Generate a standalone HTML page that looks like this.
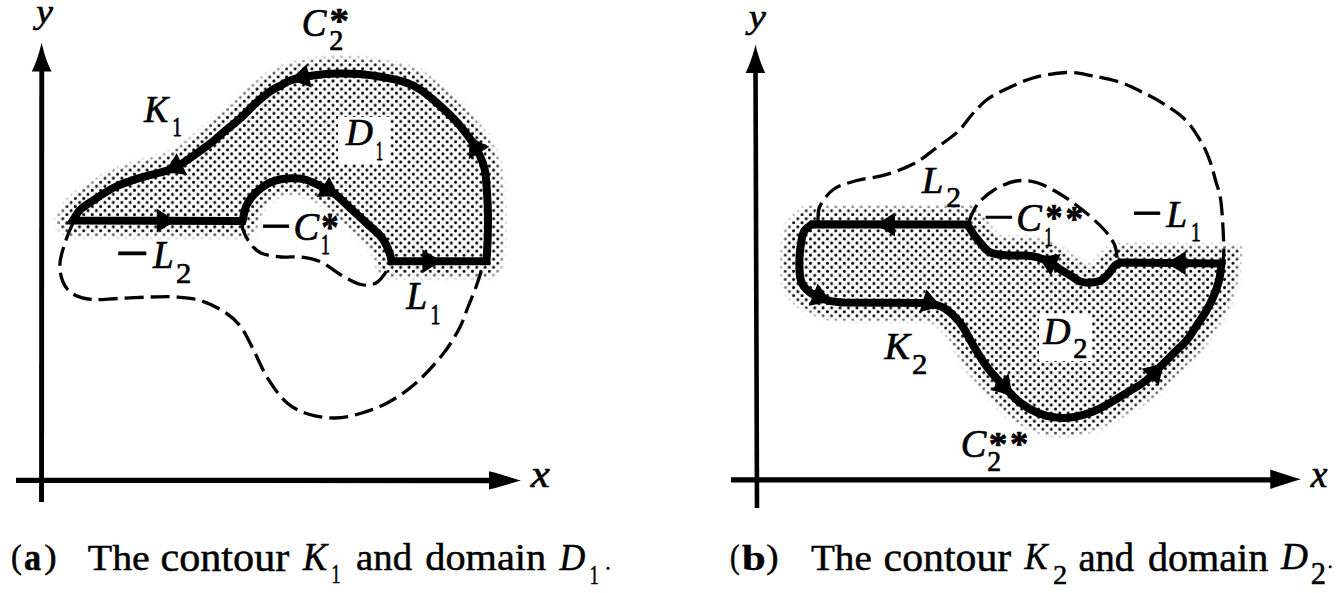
<!DOCTYPE html>
<html><head><meta charset="utf-8"><style>
html,body{margin:0;padding:0;background:#fff;}
body{width:1338px;height:593px;overflow:hidden;}
svg{display:block;}
.t{font-family:"Liberation Serif",serif;fill:#000;}
.dash{fill:none;stroke:#000;stroke-width:3.3;stroke-dasharray:19 7;}
.thick{fill:none;stroke:#000;stroke-width:8;stroke-linejoin:miter;stroke-miterlimit:3;}
</style></head><body>
<svg width="1338" height="593" viewBox="0 0 1338 593">
<defs>
<pattern id="dots" patternUnits="userSpaceOnUse" width="8.45" height="8.1" x="3.5" y="0">
<circle cx="0" cy="0" r="1.5"/><circle cx="8.45" cy="0" r="1.5"/><circle cx="0" cy="8.1" r="1.5"/><circle cx="8.45" cy="8.1" r="1.5"/><circle cx="4.225" cy="4.05" r="1.5"/>
</pattern>
<filter id="blur" x="-10%" y="-10%" width="120%" height="120%"><feGaussianBlur stdDeviation="2.5"/></filter>
<mask id="m1" maskUnits="userSpaceOnUse" x="0" y="0" width="1338" height="593">
<g filter="url(#blur)"><path d="M73.0,220.5 L242.5,221.0 C242.8,219.8 243.4,216.4 244.0,214.0 C244.6,211.6 245.0,208.9 246.0,206.5 C247.0,204.1 248.5,201.7 250.0,199.5 C251.5,197.3 253.0,195.5 255.0,193.5 C257.0,191.5 259.5,189.3 262.0,187.5 C264.5,185.7 266.8,183.9 270.0,182.5 C273.2,181.1 277.2,179.9 281.0,179.2 C284.8,178.5 289.0,178.1 293.0,178.2 C297.0,178.2 301.0,178.4 305.0,179.5 C309.0,180.6 312.2,182.2 317.0,184.5 C321.8,186.8 328.4,189.6 334.0,193.6 C339.6,197.6 345.0,203.4 350.6,208.5 C356.2,213.6 362.6,219.5 367.5,224.0 C372.4,228.5 376.9,232.0 380.0,235.5 C383.1,239.0 384.6,241.8 386.3,245.0 C388.0,248.2 389.3,252.3 390.2,255.0 C391.1,257.7 391.3,260.2 391.5,261.3 L486.5,261.3 C486.7,257.8 487.4,247.7 487.6,240.0 C487.9,232.3 488.1,222.8 488.0,215.0 C487.9,207.2 487.6,200.8 487.0,193.0 C486.4,185.2 486.3,176.0 484.5,168.5 C482.7,161.0 479.2,154.1 476.0,148.0 C472.8,141.9 468.8,137.0 465.0,132.0 C461.2,127.0 457.7,122.8 453.0,118.0 C448.3,113.2 442.5,107.8 437.0,103.0 C431.5,98.2 425.4,93.0 420.0,89.5 C414.6,86.0 410.8,84.1 404.5,82.0 C398.2,79.9 389.4,78.3 382.0,77.0 C374.6,75.7 367.5,74.6 360.0,74.0 C352.5,73.4 344.5,73.3 337.0,73.5 C329.5,73.7 322.5,74.2 315.0,75.2 C307.5,76.2 297.7,78.1 292.0,79.8 C286.3,81.5 284.7,83.3 281.0,85.3 C277.3,87.2 274.2,88.5 270.0,91.5 C265.8,94.5 260.9,98.6 256.0,103.0 C251.1,107.4 245.8,113.4 240.7,118.0 C235.6,122.6 230.6,126.2 225.5,130.5 C220.4,134.8 215.1,139.7 210.0,143.7 C204.9,147.7 200.0,151.1 195.0,154.6 C190.0,158.1 184.8,161.8 180.0,164.5 C175.2,167.2 173.0,168.6 166.5,170.8 C160.0,173.0 149.4,174.9 141.0,177.5 C132.6,180.1 124.0,182.7 116.0,186.5 C108.0,190.3 99.0,196.6 93.0,200.5 C87.0,204.4 83.3,206.7 80.0,210.0 C76.7,213.3 74.2,218.8 73.0,220.5 Z" fill="#fff" stroke="#fff" stroke-width="30" stroke-linejoin="round"/></g>
</mask>
<mask id="m2" maskUnits="userSpaceOnUse" x="0" y="0" width="1338" height="593">
<g filter="url(#blur)"><path d="M1221.5,263.5 L1121.0,262.5 C1120.0,263.0 1117.0,263.7 1115.0,265.5 C1113.0,267.3 1111.2,271.0 1108.8,273.5 C1106.4,276.0 1103.7,279.0 1100.7,280.5 C1097.7,282.0 1094.0,282.4 1090.6,282.6 C1087.2,282.8 1083.9,282.8 1080.5,281.6 C1077.1,280.4 1073.8,277.5 1070.4,275.5 C1067.0,273.5 1063.7,271.6 1060.2,269.4 C1056.7,267.1 1053.3,264.0 1049.5,262.0 C1045.7,260.0 1041.5,258.5 1037.6,257.4 C1033.6,256.3 1029.7,255.9 1025.8,255.6 C1021.9,255.3 1017.9,255.6 1014.0,255.5 C1010.1,255.4 1006.1,255.5 1002.2,255.0 C998.3,254.5 993.4,253.7 990.4,252.5 C987.4,251.3 986.5,249.8 984.5,247.8 C982.5,245.8 980.4,242.9 978.6,240.7 C976.8,238.5 975.3,236.8 973.9,234.8 C972.5,232.8 971.5,230.6 970.3,228.9 C969.1,227.2 967.4,225.2 966.8,224.5 L812.0,224.3 C810.7,225.5 805.8,228.3 804.0,231.5 C802.2,234.7 801.8,238.7 801.0,243.5 C800.2,248.3 799.5,254.8 799.4,260.5 C799.3,266.2 799.5,273.2 800.2,277.5 C800.9,281.8 801.8,283.5 803.5,286.0 C805.2,288.5 807.7,290.8 810.3,292.6 C812.9,294.4 815.5,295.6 819.0,297.0 C822.5,298.4 826.7,300.3 831.0,301.2 C835.3,302.1 842.7,302.4 845.0,302.6 L930.0,303.0 C932.3,303.8 940.0,305.8 944.0,308.0 C948.0,310.2 950.8,312.8 954.0,316.0 C957.2,319.2 959.8,322.1 963.0,327.0 C966.2,331.9 969.4,338.9 973.4,345.6 C977.4,352.3 981.9,360.2 987.0,367.0 C992.1,373.8 998.5,380.6 1004.0,386.5 C1009.5,392.4 1014.3,398.1 1020.0,402.5 C1025.7,406.9 1032.0,410.5 1038.0,413.0 C1044.0,415.5 1050.0,416.8 1056.0,417.5 C1062.0,418.2 1068.0,417.9 1074.0,417.0 C1080.0,416.1 1086.0,414.3 1092.0,412.0 C1098.0,409.7 1104.1,406.3 1110.0,403.0 C1115.9,399.7 1121.6,396.0 1127.5,392.3 C1133.4,388.6 1139.5,385.8 1145.5,381.0 C1151.5,376.2 1158.6,368.2 1163.6,363.3 C1168.6,358.4 1171.5,355.4 1175.4,351.5 C1179.3,347.6 1183.7,344.0 1187.2,339.7 C1190.8,335.4 1193.6,330.2 1196.7,325.5 C1199.8,320.8 1203.2,316.1 1206.0,311.4 C1208.8,306.7 1211.0,302.3 1213.2,297.2 C1215.4,292.1 1217.6,286.3 1219.0,280.7 C1220.4,275.1 1221.1,266.4 1221.5,263.5 Z" fill="#fff" stroke="#fff" stroke-width="34" stroke-linejoin="miter" stroke-miterlimit="2"/></g>
</mask>
</defs>
<rect width="1338" height="593" fill="#fff"/>
<rect x="0" y="0" width="669" height="520" fill="url(#dots)" mask="url(#m1)"/>
<rect x="669" y="0" width="669" height="520" fill="url(#dots)" mask="url(#m2)"/>
<rect x="338" y="117" width="52" height="47" fill="#fff"/>
<rect x="1039" y="314" width="53" height="47" fill="#fff"/>
<g fill="#000" stroke="none">
<path d="M39.3,62 L44.2,62 L44,502 L39.1,502 Z"/>
<path d="M41.6,42.5 C43.2,50 46.5,62 51.6,71.5 L31.8,71.5 C36.7,62 40,50 41.6,42.5 Z"/>
<path d="M16,477.7 L492,477.8 L492,483.2 L16,483 Z"/>
<path d="M521,480.6 C512,478 500,474 489,471.3 L489,489.5 C500,487 512,483 521,480.6 Z"/>
<path d="M753.2,62 L757.8,62 L759.3,508 L754.7,508 Z"/>
<path d="M755.5,44.5 C757.2,52 760.5,63 765.2,73 L745.6,73 C750.5,63 753.8,52 755.5,44.5 Z"/>
<path d="M731,477.3 L1272,477.3 L1272,482.4 L731,482.6 Z"/>
<path d="M1301,479.2 C1292,477 1281,473 1270.3,469.6 L1270.3,489 C1281,485.5 1292,481.5 1301,479.2 Z"/>
</g>
<path d="M73.0,223.0 C71.8,225.8 68.2,233.3 66.0,240.0 C63.8,246.7 60.5,256.0 60.0,263.0 C59.5,270.0 60.8,276.8 63.0,282.0 C65.2,287.2 68.2,291.1 73.0,294.0 C77.8,296.9 84.5,298.8 92.0,299.5 C99.5,300.2 108.2,298.9 118.0,298.5 C127.8,298.1 141.2,297.2 151.0,297.0 C160.8,296.8 168.5,296.3 177.0,297.0 C185.5,297.7 193.8,298.3 202.0,301.0 C210.2,303.7 219.5,308.7 226.0,313.0 C232.5,317.3 236.3,320.7 241.0,327.0 C245.7,333.3 249.7,342.7 254.0,351.0 C258.3,359.3 261.7,368.5 267.0,377.0 C272.3,385.5 279.2,395.8 286.0,402.0 C292.8,408.2 299.8,411.3 308.0,414.0 C316.2,416.7 326.0,418.2 335.0,418.0 C344.0,417.8 353.0,415.7 362.0,413.0 C371.0,410.3 380.0,407.0 389.0,402.0 C398.0,397.0 407.0,391.0 416.0,383.0 C425.0,375.0 435.8,363.0 443.0,354.0 C450.2,345.0 454.8,336.8 459.0,329.0 C463.2,321.2 465.2,314.0 468.0,307.0 C470.8,300.0 473.8,292.8 476.0,287.0 C478.2,281.2 479.5,276.2 481.0,272.0 C482.5,267.8 484.3,263.7 485.0,262.0" class="dash"/>
<path d="M243.0,223.0 C243.0,224.2 241.8,226.7 243.0,230.0 C244.2,233.3 247.0,239.2 250.0,243.0 C253.0,246.8 255.8,250.7 261.0,253.0 C266.2,255.3 274.3,256.3 281.0,257.0 C287.7,257.7 294.3,256.2 301.0,257.0 C307.7,257.8 314.3,259.0 321.0,262.0 C327.7,265.0 334.3,271.2 341.0,275.0 C347.7,278.8 355.2,283.2 361.0,284.5 C366.8,285.8 371.8,285.1 376.0,283.0 C380.2,280.9 383.7,275.5 386.0,272.0 C388.3,268.5 389.3,263.7 390.0,262.0" class="dash"/>
<path d="M818.0,221.0 C818.3,218.5 817.3,211.3 820.0,206.0 C822.7,200.7 827.8,193.2 834.0,189.0 C840.2,184.8 848.3,182.9 857.0,180.5 C865.7,178.1 876.4,177.6 886.0,174.7 C895.6,171.8 906.6,167.6 914.7,163.3 C922.8,159.0 927.6,154.3 934.8,149.0 C942.0,143.7 951.6,137.4 957.8,131.7 C964.0,125.9 967.2,119.8 972.0,114.5 C976.8,109.2 981.2,104.1 986.5,100.0 C991.8,95.9 996.2,93.7 1004.0,90.0 C1011.8,86.3 1022.7,80.9 1033.0,78.0 C1043.3,75.1 1056.2,72.9 1066.0,72.5 C1075.8,72.1 1082.9,74.1 1092.0,75.8 C1101.1,77.5 1112.1,79.7 1120.5,82.4 C1128.9,85.2 1135.2,88.7 1142.5,92.3 C1149.8,95.9 1157.1,99.5 1164.4,104.3 C1171.7,109.0 1180.1,114.4 1186.3,120.8 C1192.5,127.2 1197.6,135.8 1201.6,142.7 C1205.6,149.6 1208.0,155.8 1210.4,162.4 C1212.8,169.0 1214.3,176.2 1216.0,182.0 C1217.7,187.8 1219.2,190.7 1220.3,197.2 C1221.4,203.7 1222.0,212.2 1222.6,220.8 C1223.2,229.4 1223.7,242.1 1223.8,249.0 C1223.9,255.9 1223.1,259.8 1223.0,262.0" class="dash"/>
<path d="M969.0,222.0 C969.5,220.7 970.4,217.2 972.0,214.0 C973.6,210.8 974.8,207.0 978.5,203.0 C982.2,199.0 987.8,193.7 994.0,190.0 C1000.2,186.3 1008.7,182.2 1016.0,181.0 C1023.3,179.8 1030.7,180.8 1038.0,183.0 C1045.3,185.2 1052.7,189.6 1060.0,194.0 C1067.3,198.4 1074.8,203.7 1082.0,209.5 C1089.2,215.3 1098.1,223.2 1103.5,229.0 C1108.9,234.8 1112.2,239.8 1114.5,244.6 C1116.8,249.4 1116.6,255.8 1117.0,258.0" class="dash"/>
<path d="M73.0,220.5 L242.5,221.0 C242.8,219.8 243.4,216.4 244.0,214.0 C244.6,211.6 245.0,208.9 246.0,206.5 C247.0,204.1 248.5,201.7 250.0,199.5 C251.5,197.3 253.0,195.5 255.0,193.5 C257.0,191.5 259.5,189.3 262.0,187.5 C264.5,185.7 266.8,183.9 270.0,182.5 C273.2,181.1 277.2,179.9 281.0,179.2 C284.8,178.5 289.0,178.1 293.0,178.2 C297.0,178.2 301.0,178.4 305.0,179.5 C309.0,180.6 312.2,182.2 317.0,184.5 C321.8,186.8 328.4,189.6 334.0,193.6 C339.6,197.6 345.0,203.4 350.6,208.5 C356.2,213.6 362.6,219.5 367.5,224.0 C372.4,228.5 376.9,232.0 380.0,235.5 C383.1,239.0 384.6,241.8 386.3,245.0 C388.0,248.2 389.3,252.3 390.2,255.0 C391.1,257.7 391.3,260.2 391.5,261.3 L486.5,261.3 C486.7,257.8 487.4,247.7 487.6,240.0 C487.9,232.3 488.1,222.8 488.0,215.0 C487.9,207.2 487.6,200.8 487.0,193.0 C486.4,185.2 486.3,176.0 484.5,168.5 C482.7,161.0 479.2,154.1 476.0,148.0 C472.8,141.9 468.8,137.0 465.0,132.0 C461.2,127.0 457.7,122.8 453.0,118.0 C448.3,113.2 442.5,107.8 437.0,103.0 C431.5,98.2 425.4,93.0 420.0,89.5 C414.6,86.0 410.8,84.1 404.5,82.0 C398.2,79.9 389.4,78.3 382.0,77.0 C374.6,75.7 367.5,74.6 360.0,74.0 C352.5,73.4 344.5,73.3 337.0,73.5 C329.5,73.7 322.5,74.2 315.0,75.2 C307.5,76.2 297.7,78.1 292.0,79.8 C286.3,81.5 284.7,83.3 281.0,85.3 C277.3,87.2 274.2,88.5 270.0,91.5 C265.8,94.5 260.9,98.6 256.0,103.0 C251.1,107.4 245.8,113.4 240.7,118.0 C235.6,122.6 230.6,126.2 225.5,130.5 C220.4,134.8 215.1,139.7 210.0,143.7 C204.9,147.7 200.0,151.1 195.0,154.6 C190.0,158.1 184.8,161.8 180.0,164.5 C175.2,167.2 173.0,168.6 166.5,170.8 C160.0,173.0 149.4,174.9 141.0,177.5 C132.6,180.1 124.0,182.7 116.0,186.5 C108.0,190.3 99.0,196.6 93.0,200.5 C87.0,204.4 83.3,206.7 80.0,210.0 C76.7,213.3 74.2,218.8 73.0,220.5 Z" class="thick"/>
<path d="M1221.5,263.5 L1121.0,262.5 C1120.0,263.0 1117.0,263.7 1115.0,265.5 C1113.0,267.3 1111.2,271.0 1108.8,273.5 C1106.4,276.0 1103.7,279.0 1100.7,280.5 C1097.7,282.0 1094.0,282.4 1090.6,282.6 C1087.2,282.8 1083.9,282.8 1080.5,281.6 C1077.1,280.4 1073.8,277.5 1070.4,275.5 C1067.0,273.5 1063.7,271.6 1060.2,269.4 C1056.7,267.1 1053.3,264.0 1049.5,262.0 C1045.7,260.0 1041.5,258.5 1037.6,257.4 C1033.6,256.3 1029.7,255.9 1025.8,255.6 C1021.9,255.3 1017.9,255.6 1014.0,255.5 C1010.1,255.4 1006.1,255.5 1002.2,255.0 C998.3,254.5 993.4,253.7 990.4,252.5 C987.4,251.3 986.5,249.8 984.5,247.8 C982.5,245.8 980.4,242.9 978.6,240.7 C976.8,238.5 975.3,236.8 973.9,234.8 C972.5,232.8 971.5,230.6 970.3,228.9 C969.1,227.2 967.4,225.2 966.8,224.5 L812.0,224.3 C810.7,225.5 805.8,228.3 804.0,231.5 C802.2,234.7 801.8,238.7 801.0,243.5 C800.2,248.3 799.5,254.8 799.4,260.5 C799.3,266.2 799.5,273.2 800.2,277.5 C800.9,281.8 801.8,283.5 803.5,286.0 C805.2,288.5 807.7,290.8 810.3,292.6 C812.9,294.4 815.5,295.6 819.0,297.0 C822.5,298.4 826.7,300.3 831.0,301.2 C835.3,302.1 842.7,302.4 845.0,302.6 L930.0,303.0 C932.3,303.8 940.0,305.8 944.0,308.0 C948.0,310.2 950.8,312.8 954.0,316.0 C957.2,319.2 959.8,322.1 963.0,327.0 C966.2,331.9 969.4,338.9 973.4,345.6 C977.4,352.3 981.9,360.2 987.0,367.0 C992.1,373.8 998.5,380.6 1004.0,386.5 C1009.5,392.4 1014.3,398.1 1020.0,402.5 C1025.7,406.9 1032.0,410.5 1038.0,413.0 C1044.0,415.5 1050.0,416.8 1056.0,417.5 C1062.0,418.2 1068.0,417.9 1074.0,417.0 C1080.0,416.1 1086.0,414.3 1092.0,412.0 C1098.0,409.7 1104.1,406.3 1110.0,403.0 C1115.9,399.7 1121.6,396.0 1127.5,392.3 C1133.4,388.6 1139.5,385.8 1145.5,381.0 C1151.5,376.2 1158.6,368.2 1163.6,363.3 C1168.6,358.4 1171.5,355.4 1175.4,351.5 C1179.3,347.6 1183.7,344.0 1187.2,339.7 C1190.8,335.4 1193.6,330.2 1196.7,325.5 C1199.8,320.8 1203.2,316.1 1206.0,311.4 C1208.8,306.7 1211.0,302.3 1213.2,297.2 C1215.4,292.1 1217.6,286.3 1219.0,280.7 C1220.4,275.1 1221.1,266.4 1221.5,263.5 Z" class="thick"/>
<g fill="#000"><path d="M177.8,220.8 Q167.3,225.3 156.7,232.7 L156.8,208.7 Q167.3,216.2 177.8,220.8 Z"/><path d="M162.9,173.1 Q170.4,164.5 176.7,153.3 L187.0,175.0 Q174.3,172.7 162.9,173.1 Z"/><path d="M288.5,80.3 Q297.8,73.6 306.5,64.2 L311.5,87.6 Q299.7,82.6 288.5,80.3 Z"/><path d="M468.3,135.0 Q477.6,141.7 489.4,146.8 L468.8,159.2 Q469.8,146.4 468.3,135.0 Z"/><path d="M443.4,261.3 Q432.9,265.9 422.4,273.3 L422.4,249.3 Q432.9,256.7 443.4,261.3 Z"/><path d="M340.8,197.7 Q329.5,196.0 316.6,196.9 L329.2,176.4 Q334.3,188.3 340.8,197.7 Z"/><path d="M874.0,224.4 Q884.5,219.8 895.0,212.4 L895.0,236.4 Q884.5,229.0 874.0,224.4 Z"/><path d="M832.7,302.6 Q821.3,302.9 808.7,305.8 L817.7,283.6 Q824.7,294.4 832.7,302.6 Z"/><path d="M943.0,307.1 Q931.6,308.3 919.4,312.3 L926.5,289.4 Q934.3,299.6 943.0,307.1 Z"/><path d="M1013.9,397.2 Q1003.4,392.6 990.8,389.9 L1008.5,373.6 Q1010.1,386.4 1013.9,397.2 Z"/><path d="M1164.9,362.0 Q1160.8,372.7 1158.8,385.4 L1141.6,368.7 Q1154.3,366.3 1164.9,362.0 Z"/><path d="M1164.7,262.9 Q1175.3,258.5 1185.8,251.1 L1185.6,275.1 Q1175.2,267.6 1164.7,262.9 Z"/><path d="M1036.7,256.0 Q1048.2,256.3 1060.8,254.0 L1050.7,275.7 Q1044.3,264.5 1036.7,256.0 Z"/></g>
<g class="t" stroke="#000" stroke-linejoin="round"><text transform="matrix(0.37500 0 0 0.33731 36.15 23.27)" font-size="100" font-style="italic" font-weight="normal" stroke-width="1.97">y</text>
<text transform="matrix(0.42889 0 0 0.36957 530.78 486.95)" font-size="100" font-style="italic" font-weight="normal" stroke-width="1.75">x</text>
<text transform="matrix(0.36935 0 0 0.40152 301.73 35.85)" font-size="100" font-style="italic" font-weight="normal" stroke-width="1.82">C</text>
<text transform="matrix(0.39048 0 0 0.34865 329.59 33.01)" font-size="100" font-style="normal" font-weight="bold" stroke-width="1.89">*</text>
<text transform="matrix(0.28250 0 0 0.28923 329.22 50.45)" font-size="100" font-style="normal" font-weight="normal" stroke-width="2.45">2</text>
<text transform="matrix(0.36389 0 0 0.38923 144.11 121.75)" font-size="100" font-style="italic" font-weight="normal" stroke-width="1.86">K</text>
<text transform="matrix(0.19143 0 0 0.28333 172.23 136.05)" font-size="100" font-style="normal" font-weight="normal" stroke-width="2.95">1</text>
<text transform="matrix(0.37639 0 0 0.37846 345.83 145.05)" font-size="100" font-style="italic" font-weight="normal" stroke-width="1.85">D</text>
<text transform="matrix(0.14000 0 0 0.28030 376.09 160.25)" font-size="100" font-style="normal" font-weight="normal" stroke-width="3.33">1</text>
<text transform="matrix(0.54681 0 0 0.54000 260.52 244.19)" font-size="100" font-style="normal" font-weight="normal" stroke-width="1.29">−</text>
<text transform="matrix(0.38387 0 0 0.41061 293.45 239.94)" font-size="100" font-style="italic" font-weight="normal" stroke-width="1.76">C</text>
<text transform="matrix(0.34762 0 0 0.40811 321.26 240.18)" font-size="100" font-style="normal" font-weight="bold" stroke-width="1.85">*</text>
<text transform="matrix(0.17714 0 0 0.28485 321.06 253.85)" font-size="100" font-style="normal" font-weight="normal" stroke-width="3.03">1</text>
<text transform="matrix(0.58723 0 0 0.62000 115.71 273.87)" font-size="100" font-style="normal" font-weight="normal" stroke-width="1.16">−</text>
<text transform="matrix(0.37115 0 0 0.39692 152.92 267.65)" font-size="100" font-style="italic" font-weight="normal" stroke-width="1.82">L</text>
<text transform="matrix(0.30750 0 0 0.30308 175.92 282.85)" font-size="100" font-style="normal" font-weight="normal" stroke-width="2.29">2</text>
<text transform="matrix(0.37692 0 0 0.39385 406.33 309.05)" font-size="100" font-style="italic" font-weight="normal" stroke-width="1.82">L</text>
<text transform="matrix(0.19714 0 0 0.29697 430.48 323.75)" font-size="100" font-style="normal" font-weight="normal" stroke-width="2.83">1</text>
<text transform="matrix(0.38462 0 0 0.33881 748.73 27.94)" font-size="100" font-style="italic" font-weight="normal" stroke-width="1.94">y</text>
<text transform="matrix(0.37556 0 0 0.38261 1310.73 486.95)" font-size="100" font-style="italic" font-weight="normal" stroke-width="1.85">x</text>
<text transform="matrix(0.38846 0 0 0.37538 921.74 193.05)" font-size="100" font-style="italic" font-weight="normal" stroke-width="1.83">L</text>
<text transform="matrix(0.29500 0 0 0.28923 946.17 207.45)" font-size="100" font-style="normal" font-weight="normal" stroke-width="2.40">2</text>
<text transform="matrix(0.55532 0 0 0.50000 983.07 233.95)" font-size="100" font-style="normal" font-weight="normal" stroke-width="1.33">−</text>
<text transform="matrix(0.38387 0 0 0.39697 1016.35 230.95)" font-size="100" font-style="italic" font-weight="normal" stroke-width="1.79">C</text>
<text transform="matrix(0.34048 0 0 0.37568 1045.49 230.47)" font-size="100" font-style="normal" font-weight="bold" stroke-width="1.95">*</text>
<text transform="matrix(0.35238 0 0 0.36216 1065.44 230.59)" font-size="100" font-style="normal" font-weight="bold" stroke-width="1.96">*</text>
<text transform="matrix(0.16286 0 0 0.28030 1044.48 245.95)" font-size="100" font-style="normal" font-weight="normal" stroke-width="3.16">1</text>
<text transform="matrix(0.54894 0 0 0.54000 1131.51 231.19)" font-size="100" font-style="normal" font-weight="normal" stroke-width="1.29">−</text>
<text transform="matrix(0.37500 0 0 0.38462 1166.22 226.65)" font-size="100" font-style="italic" font-weight="normal" stroke-width="1.84">L</text>
<text transform="matrix(0.19429 0 0 0.27727 1191.10 240.65)" font-size="100" font-style="normal" font-weight="normal" stroke-width="2.97">1</text>
<text transform="matrix(0.37778 0 0 0.38615 1043.33 343.65)" font-size="100" font-style="italic" font-weight="normal" stroke-width="1.83">D</text>
<text transform="matrix(0.28500 0 0 0.30000 1073.21 357.75)" font-size="100" font-style="normal" font-weight="normal" stroke-width="2.39">2</text>
<text transform="matrix(0.38333 0 0 0.38923 884.53 359.45)" font-size="100" font-style="italic" font-weight="normal" stroke-width="1.81">K</text>
<text transform="matrix(0.30750 0 0 0.29692 912.12 373.85)" font-size="100" font-style="normal" font-weight="normal" stroke-width="2.32">2</text>
<text transform="matrix(0.38226 0 0 0.39848 960.66 457.15)" font-size="100" font-style="italic" font-weight="normal" stroke-width="1.79">C</text>
<text transform="matrix(0.37381 0 0 0.34595 988.85 454.54)" font-size="100" font-style="normal" font-weight="bold" stroke-width="1.95">*</text>
<text transform="matrix(0.36667 0 0 0.35676 1009.88 456.14)" font-size="100" font-style="normal" font-weight="bold" stroke-width="1.94">*</text>
<text transform="matrix(0.27750 0 0 0.29385 987.14 471.45)" font-size="100" font-style="normal" font-weight="normal" stroke-width="2.45">2</text>
<text transform="matrix(0.32308 0 0 0.34000 11.06 568.31)" font-size="100" font-style="normal" font-weight="normal" stroke-width="1.51">(</text>
<text transform="matrix(0.34222 0 0 0.38333 24.02 569.87)" font-size="100" font-style="normal" font-weight="bold" stroke-width="1.38">a</text>
<text transform="matrix(0.37308 0 0 0.34000 44.23 568.31)" font-size="100" font-style="normal" font-weight="normal" stroke-width="1.40">)</text>
<text transform="matrix(0.39933 0 0 0.36571 87.75 570.08)" font-size="100" font-style="normal" font-weight="normal" stroke-width="1.31">The</text>
<text transform="matrix(0.42126 0 0 0.39500 160.56 570.60)" font-size="100" font-style="normal" font-weight="normal" stroke-width="1.23">contour</text>
<text transform="matrix(0.36667 0 0 0.40615 302.82 570.15)" font-size="100" font-style="italic" font-weight="normal" stroke-width="1.29">K</text>
<text transform="matrix(0.17714 0 0 0.27273 331.46 583.25)" font-size="100" font-style="normal" font-weight="normal" stroke-width="2.22">1</text>
<text transform="matrix(0.38777 0 0 0.37143 356.10 570.08)" font-size="100" font-style="normal" font-weight="normal" stroke-width="1.32">and</text>
<text transform="matrix(0.40272 0 0 0.37429 425.34 570.08)" font-size="100" font-style="normal" font-weight="normal" stroke-width="1.29">domain</text>
<text transform="matrix(0.35694 0 0 0.38308 559.61 570.15)" font-size="100" font-style="italic" font-weight="normal" stroke-width="1.35">D</text>
<text transform="matrix(0.18000 0 0 0.27576 589.73 584.35)" font-size="100" font-style="normal" font-weight="normal" stroke-width="2.19">1</text>
<text transform="matrix(0.28846 0 0 0.33778 729.90 568.36)" font-size="100" font-style="normal" font-weight="normal" stroke-width="1.60">(</text>
<text transform="matrix(0.42549 0 0 0.35429 742.02 569.90)" font-size="100" font-style="normal" font-weight="bold" stroke-width="1.28">b</text>
<text transform="matrix(0.36923 0 0 0.33778 766.24 568.36)" font-size="100" font-style="normal" font-weight="normal" stroke-width="1.41">)</text>
<text transform="matrix(0.39133 0 0 0.35714 810.97 569.89)" font-size="100" font-style="normal" font-weight="normal" stroke-width="1.34">The</text>
<text transform="matrix(0.41794 0 0 0.39500 883.58 570.60)" font-size="100" font-style="normal" font-weight="normal" stroke-width="1.23">contour</text>
<text transform="matrix(0.34583 0 0 0.38308 1024.60 569.35)" font-size="100" font-style="italic" font-weight="normal" stroke-width="1.37">K</text>
<text transform="matrix(0.28500 0 0 0.27385 1053.01 583.55)" font-size="100" font-style="normal" font-weight="normal" stroke-width="1.79">2</text>
<text transform="matrix(0.38561 0 0 0.39500 1078.41 570.60)" font-size="100" font-style="normal" font-weight="normal" stroke-width="1.28">and</text>
<text transform="matrix(0.40136 0 0 0.39500 1147.94 570.60)" font-size="100" font-style="normal" font-weight="normal" stroke-width="1.26">domain</text>
<text transform="matrix(0.37361 0 0 0.38308 1280.92 568.95)" font-size="100" font-style="italic" font-weight="normal" stroke-width="1.32">D</text>
<text transform="matrix(0.30500 0 0 0.30769 1310.63 583.65)" font-size="100" font-style="normal" font-weight="normal" stroke-width="1.63">2</text></g>
<g fill="#000"><circle cx="608" cy="568.3" r="1.5"/><circle cx="1330.2" cy="566.8" r="1.5"/></g>
</svg>
</body></html>
